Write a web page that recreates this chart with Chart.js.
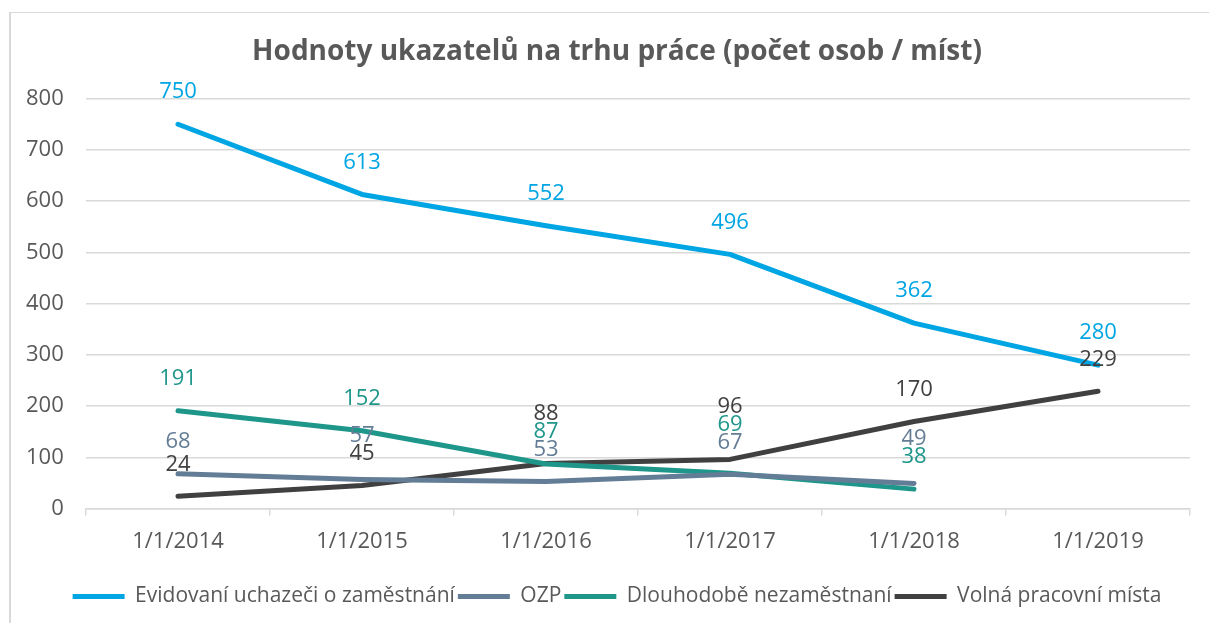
<!DOCTYPE html>
<html>
<head>
<meta charset="utf-8">
<script src="https://cdn.jsdelivr.net/npm/chart.js@4.4.1/dist/chart.umd.min.js"></script>
<style>
  html, body { margin: 0; padding: 0; background: #fff; overflow: hidden; }
  #wrap { position: absolute; left: 0; top: 0; width: 1209px; height: 623px; }
  #frame { position: absolute; left: 9px; top: 12px; width: 1400px; height: 800px;
           border-left: 2px solid #d9d9d9; border-top: 1px solid #d9d9d9; pointer-events: none; }
</style>
</head>
<body>
<div id="wrap"><canvas id="chart" width="1209" height="623"></canvas></div>
<div id="frame"></div>
<script>
const years = ['1/1/2014', '1/1/2015', '1/1/2016', '1/1/2017', '1/1/2018', '1/1/2019'];
const evidovani = [750, 613, 552, 496, 362, 280];
const ozp = [68, 57, 53, 67, 49, null];
const dlouhodobe = [191, 152, 87, 69, 38, null];
const volnaMista = [24, 45, 88, 96, 170, 229];

const grey = '#595959';
const gridColor = '#d9d9d9';
const font = 'Open Sans';

// labels above points, pushed up when they would overlap
const pointLabels = {
  id: 'pointLabels',
  afterDatasetsDraw(chart) {
    const ctx = chart.ctx;
    const gap = 18;
    ctx.save();
    ctx.font = '22px "' + font + '"';
    ctx.textAlign = 'center';
    ctx.textBaseline = 'middle';
    for (let i = 0; i < years.length; i++) {
      let items = [];
      chart.data.datasets.forEach((ds, d) => {
        const v = ds.data[i];
        if (v == null) return;
        const pt = chart.getDatasetMeta(d).data[i];
        items.push({ x: pt.x, y: pt.y - 32, text: String(v), color: ds.borderColor });
      });
      items.sort((a, b) => b.y - a.y);
      for (let k = 1; k < items.length; k++) {
        if (items[k - 1].y - items[k].y < gap) items[k].y = items[k - 1].y - gap;
      }
      items.forEach(it => {
        ctx.fillStyle = it.color;
        ctx.fillText(it.text, it.x, it.y);
      });
    }
    ctx.restore();
  }
};

function series(label, data, color) {
  return {
    label, data,
    borderColor: color,
    backgroundColor: color,
    borderWidth: 5,
    borderCapStyle: 'round',
    borderJoinStyle: 'round',
    pointRadius: 0,
    tension: 0
  };
}

new Chart(document.getElementById('chart'), {
  type: 'line',
  data: {
    labels: years,
    datasets: [
      series('Evidovaní uchazeči o zaměstnání', evidovani, '#00a5e3'),
      series('OZP', ozp, '#647d96'),
      series('Dlouhodobě nezaměstnaní', dlouhodobe, '#1e968a'),
      series('Volná pracovní místa', volnaMista, '#404040')
    ]
  },
  options: {
    responsive: false,
    animation: false,
    layout: { padding: { left: 44, right: 19, top: 20, bottom: 6 } },
    plugins: {
      tooltip: { enabled: false },
      title: {
        display: true,
        text: 'Hodnoty ukazatelů na trhu práce (počet osob / míst)',
        color: grey,
        font: { family: font, size: 28, weight: 'bold' },
        padding: { top: 15, bottom: 30 }
      },
      legend: {
        position: 'bottom',
        labels: {
          color: grey,
          font: { family: font, size: 21 },
          boxWidth: 52,
          boxHeight: 5,
          padding: 3,
          useBorderRadius: true,
          borderRadius: 2.5,
          generateLabels(chart) {
            return chart.data.datasets.map((ds, i) => ({
              text: ds.label,
              fillStyle: ds.borderColor,
              strokeStyle: ds.borderColor,
              lineWidth: 0,
              fontColor: grey,
              datasetIndex: i,
              hidden: false
            }));
          }
        }
      }
    },
    scales: {
      x: {
        offset: true,
        grid: { offset: true, drawOnChartArea: false, drawTicks: true, tickLength: 7, color: gridColor, lineWidth: 1.5 },
        border: { display: true, color: gridColor, width: 1.5 },
        ticks: { color: grey, font: { family: font, size: 22 }, padding: 13, maxRotation: 0 },
        afterFit(scale) { scale.height += 15; }
      },
      y: {
        min: 0, max: 800,
        grid: { color: gridColor, lineWidth: 1.5, drawTicks: false },
        border: { display: false },
        // labels sit left of the plot, partly outside the axis box
        ticks: { stepSize: 100, color: grey, font: { family: font, size: 22 }, mirror: true, crossAlign: 'far', padding: -60 },
        afterFit(scale) { scale.width = 42; }
      }
    }
  },
  plugins: [pointLabels]
});
</script>
</body>
</html>
